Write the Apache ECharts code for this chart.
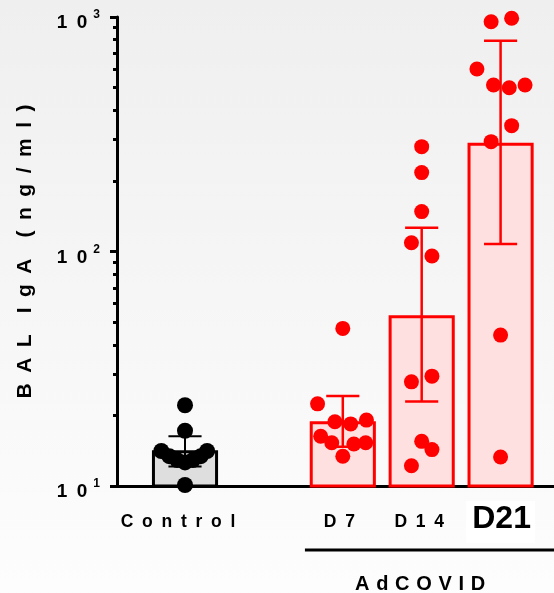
<!DOCTYPE html>
<html><head><meta charset="utf-8">
<script src="https://cdn.jsdelivr.net/npm/echarts@6/dist/echarts.min.js"></script>
<style>html,body{margin:0;padding:0;background:#fff;}#c{width:554px;height:593px;}</style>
</head><body><div id="c"></div>
<script>
// ---- data ----
const EN = '\u2002', EM = '\u2003', TPE = '\u2004';
const groupPositions = [0, 2, 3, 4];
const groupLabels = ['C' + EN + 'o' + EN + 'n' + EN + 't' + EN + 'r' + EN + 'o' + EN + 'l', 'D' + EN + '7', 'D' + EN + '1' + EN + '4', 'D21'];
const groupTitle = ['A', 'd', 'C', 'O', 'V', 'I', 'D'].join(TPE);
const yAxisTitle = 'B' + EN + 'A' + EN + 'L' + EM + 'I' + EN + 'g' + EN + 'A' + EM + '(' + EN + 'n' + EN + 'g' + EN + '/' + EN + 'm' + EN + 'l' + EN + ')';
const yTickMantissa = '1' + EN + '0';
const barMeans = [14.0, 18.6, 52.7, 287];
const errLow = [12.1, 14.7, 22.9, 107.7];
const errHigh = [16.3, 24.2, 126.4, 792];
const controlValues = [22.1, 17.2, 14.1, 13.4, 12.9, 12.6, 12.9, 13.4, 14.1, 10.1];
const controlJitter = [0, 0, -0.30, -0.20, -0.10, 0, 0.10, 0.20, 0.28, 0];
const d7Values = [47.0, 22.4, 18.8, 18.4, 19.1, 16.3, 15.3, 15.1, 15.3, 13.4];
const d7Jitter = [0, -0.32, -0.10, 0.10, 0.30, -0.28, -0.14, 0.14, 0.29, 0];
const d14Values = [280, 217, 148, 109, 95.7, 27.8, 29.4, 15.5, 14.3, 12.2];
const d14Jitter = [0, 0, 0, -0.13, 0.13, -0.13, 0.13, 0, 0.13, -0.13];
const d21Values = [955, 988, 600, 513, 499, 513, 344, 294, 44.0, 13.3];
const d21Jitter = [-0.12, 0.14, -0.30, -0.09, 0.11, 0.31, 0.14, -0.12, 0, 0];
const yMajorTicks = [10, 100, 1000];
const yMinorTicks = [20, 30, 40, 50, 60, 70, 80, 90, 200, 300, 400, 500, 600, 700, 800, 900];

// ---- styles ----
const FONT = 'Liberation Sans, Arial, sans-serif';
const groupColors = ['#000000', '#ff0000', '#ff0000', '#ff0000'];
const barFills = ['#dedede', '#ffe0e0', '#ffe0e0', '#ffe0e0'];
const symbolSizes = [16, 15, 15, 15];
const errWidths = [2, 2.5, 2.5, 2.5];
const labelStyles = ['c', 'd7', 'd14', 'big'];
const BAR_HALF = 0.4, CAP_HALF = 0.21;
const X_MIN = -0.862, X_MAX = 4.677, Y_MIN = 10, Y_MAX = 1000;

const allValues = [controlValues, d7Values, d14Values, d21Values];
const allJitter = [controlJitter, d7Jitter, d14Jitter, d21Jitter];

const chart = echarts.init(document.getElementById('c'), null, {renderer: 'canvas'});

const barData = groupPositions.map((p, i) => [p, barMeans[i], i]);
const errData = groupPositions.map((p, i) => [p, errLow[i], errHigh[i], i]);

const scatterSeries = allValues.map((vals, g) => ({
  type: 'scatter',
  xAxisIndex: 0, yAxisIndex: 0,
  z: 5,
  symbol: 'circle',
  symbolSize: symbolSizes[g],
  itemStyle: {color: groupColors[g], opacity: 1},
  data: vals.map((v, k) => [groupPositions[g] + allJitter[g][k], v]),
  silent: true
}));

const labelBase = {fontFamily: FONT, fontWeight: 'bold', fontSize: 17.5, color: '#000'};

const option = {
  animation: false,
  backgroundColor: {
    type: 'linear', x: 0, y: 0, x2: 0, y2: 1,
    colorStops: [{offset: 0, color: '#efefef'}, {offset: 1, color: '#fdfdfd'}]
  },
  grid: {left: 117, right: 0, top: 17, bottom: 107, containLabel: false},
  xAxis: {
    type: 'value', min: X_MIN, max: X_MAX,
    splitLine: {show: false},
    axisTick: {show: false},
    axisLine: {show: true, onZero: false, lineStyle: {color: '#000', width: 3}},
    axisLabel: {
      customValues: groupPositions,
      margin: 36,
      verticalAlign: 'middle',
      formatter: function (v) {
        const i = groupPositions.findIndex(p => Math.abs(p - v) < 1e-6);
        if (i < 0) return '';
        return '{' + labelStyles[i] + '|' + groupLabels[i] + '}';
      },
      rich: {
        c: Object.assign({padding: [0, 14, 0, 0]}, labelBase),
        d7: Object.assign({padding: [0, 7, 0, 0]}, labelBase),
        d14: Object.assign({padding: [0, 5, 0, 0]}, labelBase),
        big: {fontFamily: FONT, fontWeight: 'bold', fontSize: 32, color: '#000',
              backgroundColor: '#fff', padding: [2, 4, 8, 6]}
      }
    }
  },
  yAxis: [{
    type: 'log', logBase: 10, min: Y_MIN, max: Y_MAX,
    name: yAxisTitle, nameLocation: 'middle', nameGap: 81,
    nameTextStyle: {fontFamily: FONT, fontWeight: 'bold', fontSize: 21, color: '#000'},
    splitLine: {show: false},
    axisLine: {show: true, onZero: false, lineStyle: {color: '#000', width: 3}},
    axisTick: {show: true, customValues: yMajorTicks, length: 7, lineStyle: {color: '#000', width: 3}},
    axisLabel: {
      customValues: yMajorTicks,
      margin: 17,
      formatter: function (v) {
        return '{b|' + yTickMantissa + '}{s|' + Math.round(Math.log10(v)) + '}';
      },
      rich: {
        b: {fontFamily: FONT, fontWeight: 'bold', fontSize: 19, color: '#000', padding: [12, 0, 0, 0]},
        s: {fontFamily: FONT, fontWeight: 'bold', fontSize: 12, color: '#000', padding: [0, 0, 4, 6]}
      }
    }
  }, {
    type: 'log', logBase: 10, min: Y_MIN, max: Y_MAX,
    position: 'left',
    splitLine: {show: false},
    axisLine: {show: false, onZero: false},
    axisLabel: {show: false},
    axisTick: {show: true, customValues: yMinorTicks, length: 4, lineStyle: {color: '#000', width: 3}}
  }],
  series: [{
    type: 'custom',
    z: 2,
    xAxisIndex: 0, yAxisIndex: 0,
    data: barData,
    encode: {x: 0, y: 1},
    silent: true,
    renderItem: function (params, api) {
      const x = api.value(0), v = api.value(1), g = api.value(2);
      const left = api.coord([x - BAR_HALF, v]);
      const right = api.coord([x + BAR_HALF, v]);
      const base = api.coord([x, Y_MIN]);
      return {
        type: 'rect',
        shape: {x: left[0], y: left[1], width: right[0] - left[0], height: base[1] - left[1]},
        style: {fill: barFills[g], stroke: groupColors[g], lineWidth: 3}
      };
    }
  }, {
    type: 'custom',
    z: 3,
    xAxisIndex: 0, yAxisIndex: 0,
    data: errData,
    encode: {x: 0, y: [1, 2]},
    silent: true,
    renderItem: function (params, api) {
      const x = api.value(0), lo = api.value(1), hi = api.value(2), g = api.value(3);
      const pLo = api.coord([x, lo]), pHi = api.coord([x, hi]);
      const cL = api.coord([x - CAP_HALF, lo])[0], cR = api.coord([x + CAP_HALF, lo])[0];
      const st = {stroke: groupColors[g], lineWidth: errWidths[g]};
      return {
        type: 'group',
        children: [
          {type: 'line', shape: {x1: pLo[0], y1: pLo[1], x2: pHi[0], y2: pHi[1]}, style: st},
          {type: 'line', shape: {x1: cL, y1: pLo[1], x2: cR, y2: pLo[1]}, style: st},
          {type: 'line', shape: {x1: cL, y1: pHi[1], x2: cR, y2: pHi[1]}, style: st}
        ]
      };
    }
  }].concat(scatterSeries)
};

chart.setOption(option);

// AdCOVID bracket below the axis, placed with the chart's own scales
const base = chart.convertToPixel({xAxisIndex: 0, yAxisIndex: 0}, [1.52, Y_MIN]);
const right = chart.convertToPixel({xAxisIndex: 0, yAxisIndex: 0}, [X_MAX, Y_MIN]);
const mid = chart.convertToPixel({xAxisIndex: 0, yAxisIndex: 0}, [2.98, Y_MIN]);
chart.setOption({
  graphic: [{
    type: 'line',
    shape: {x1: base[0], y1: base[1] + 64, x2: right[0], y2: base[1] + 64},
    style: {stroke: '#000', lineWidth: 3}
  }, {
    type: 'text',
    x: mid[0], y: base[1] + 98,
    style: {text: groupTitle, fontFamily: FONT, fontWeight: 'bold', fontSize: 20,
            fill: '#000', align: 'center', verticalAlign: 'middle'}
  }]
});
</script>
</body></html>
